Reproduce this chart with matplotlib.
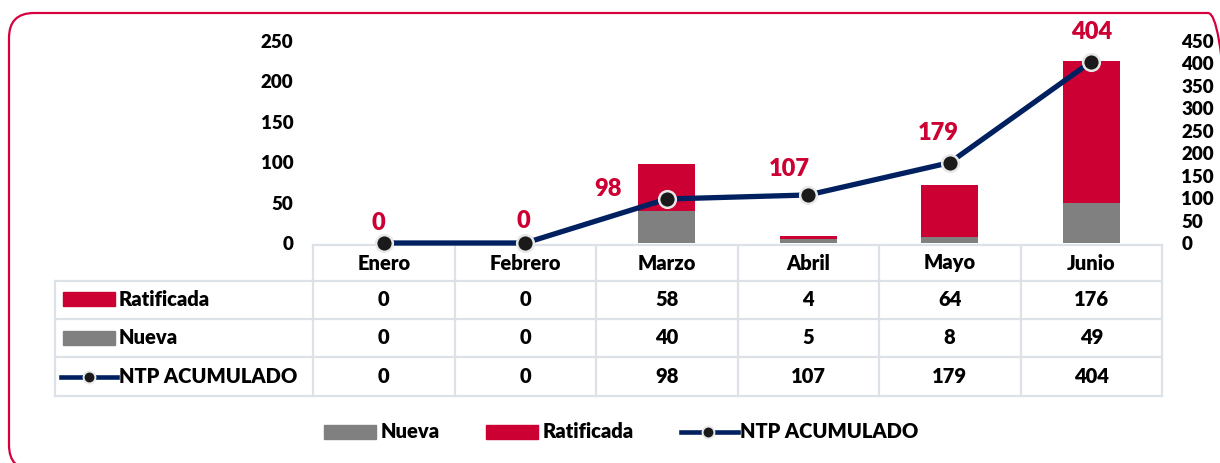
import matplotlib
matplotlib.use("Agg")
import matplotlib.pyplot as plt
from matplotlib.patches import FancyBboxPatch, Rectangle
from matplotlib.transforms import IdentityTransform
import numpy as np

months = ["Enero", "Febrero", "Marzo", "Abril", "Mayo", "Junio"]
ratificada = [0, 0, 58, 4, 64, 176]
nueva = [0, 0, 40, 5, 8, 49]
acumulado = [0, 0, 98, 107, 179, 404]

RED = "#CC0033"
GRAY = "#808080"
NAVY = "#002060"
GRID = "#DDE1E8"

plt.rcParams["font.family"] = ["Lato", "DejaVu Sans"]
plt.rcParams["font.weight"] = "heavy"

W, H = 1220, 463
fig = plt.figure(figsize=(W / 100, H / 100), dpi=100)

# outer rounded frame, in display pixels (y up), running off the right and bottom edges
frame = FancyBboxPatch((9, H - 470), 1224, 457, boxstyle="round,pad=0,rounding_size=25",
                       ec="#D6003F", fc="none", lw=1.6, transform=IdentityTransform())
fig.patches.append(frame)

# background axes in pixel coordinates (table, legend)
bg = fig.add_axes([0, 0, 1, 1], zorder=0)
bg.set_xlim(0, W)
bg.set_ylim(H, 0)
bg.axis("off")

# chart area
x0, x1 = 313, 1162
y_top, y_zero = 41, 243
ax = fig.add_axes([x0 / W, 1 - y_zero / H, (x1 - x0) / W, (y_zero - y_top) / H], zorder=1)
ax.patch.set_alpha(0)
x = np.arange(len(months))
ax.bar(x, nueva, 0.4, color=GRAY)
ax.bar(x, ratificada, 0.4, bottom=nueva, color=RED)
ax.set_xlim(-0.5, len(months) - 0.5)
ax.set_ylim(0, 250)
ax.set_yticks(range(0, 251, 50))
ax.set_xticks([])
for s in ax.spines.values():
    s.set_visible(False)
ax.tick_params(axis="y", length=0, pad=14, labelsize=13.5)

ax2 = ax.twinx()
ax2.set_ylim(0, 450)
ax2.set_yticks(range(0, 451, 50))
ax2.tick_params(axis="y", length=0, pad=14, labelsize=13.5)
for s in ax2.spines.values():
    s.set_visible(False)
ax2.plot(x, acumulado, color=NAVY, lw=3.8, marker="o", ms=12, mfc="#1A1A1A",
         mec="#E8E8E8", mew=1.8, zorder=5, clip_on=False)

# data labels offsets in pixels
offsets = [(-5, 20), (-2, 22), (-59, 10), (-19, 26), (-11, 30), (0, 30)]
for xi, v, (dx, dy) in zip(x, acumulado, offsets):
    ax2.annotate(str(v), (xi, v), xytext=(dx, dy), textcoords="offset pixels",
                 ha="center", va="center", color=RED, fontsize=17)

# data table
left = 55
col_w = (x1 - x0) / len(months)
row_lines = [245, 281, 319, 357, 396]
bg.plot([x0, x1], [row_lines[0]] * 2, color=GRID, lw=1.6)
for yl in row_lines[1:]:
    bg.plot([left, x1], [yl, yl], color=GRID, lw=1.6)
bg.plot([left, left], [row_lines[1], row_lines[-1]], color=GRID, lw=1.6)
for i in range(len(months) + 1):
    xc = x0 + i * col_w
    bg.plot([xc, xc], [row_lines[0], row_lines[-1]], color=GRID, lw=1.6)

fs = 14.5
cx = [x0 + (i + 0.5) * col_w for i in range(len(months))]
for c, m in zip(cx, months):
    bg.text(c, 263, m, ha="center", va="center", fontsize=fs)
row_mid = [(row_lines[i] + row_lines[i + 1]) / 2 for i in range(1, 4)]
for yv, vals in zip(row_mid, [ratificada, nueva, acumulado]):
    for c, v in zip(cx, vals):
        bg.text(c, yv, str(v), ha="center", va="center", fontsize=fs)

bg.add_patch(Rectangle((63, 292), 52, 14, color=RED))
bg.text(119, row_mid[0], "Ratificada", ha="left", va="center", fontsize=fs)
bg.add_patch(Rectangle((63, 331), 52, 14, color=GRAY))
bg.text(119, row_mid[1], "Nueva", ha="left", va="center", fontsize=fs)
bg.plot([61, 117], [row_mid[2]] * 2, color=NAVY, lw=3.3)
bg.plot([89], [row_mid[2]], marker="o", ms=8.5, mfc="#1A1A1A", mec="#E8E8E8", mew=1.4)
bg.text(119, row_mid[2], "NTP ACUMULADO", ha="left", va="center", fontsize=fs)

# legend
bg.add_patch(Rectangle((324, 425), 52, 14, color=GRAY))
bg.text(381, 432, "Nueva", ha="left", va="center", fontsize=fs)
bg.add_patch(Rectangle((486, 425), 52, 14, color=RED))
bg.text(543, 432, "Ratificada", ha="left", va="center", fontsize=fs)
bg.plot([681, 738], [432, 432], color=NAVY, lw=3.3)
bg.plot([708], [432], marker="o", ms=8.5, mfc="#1A1A1A", mec="#E8E8E8", mew=1.4)
bg.text(740, 432, "NTP ACUMULADO", ha="left", va="center", fontsize=fs)

fig.savefig("out.png", dpi=100)
